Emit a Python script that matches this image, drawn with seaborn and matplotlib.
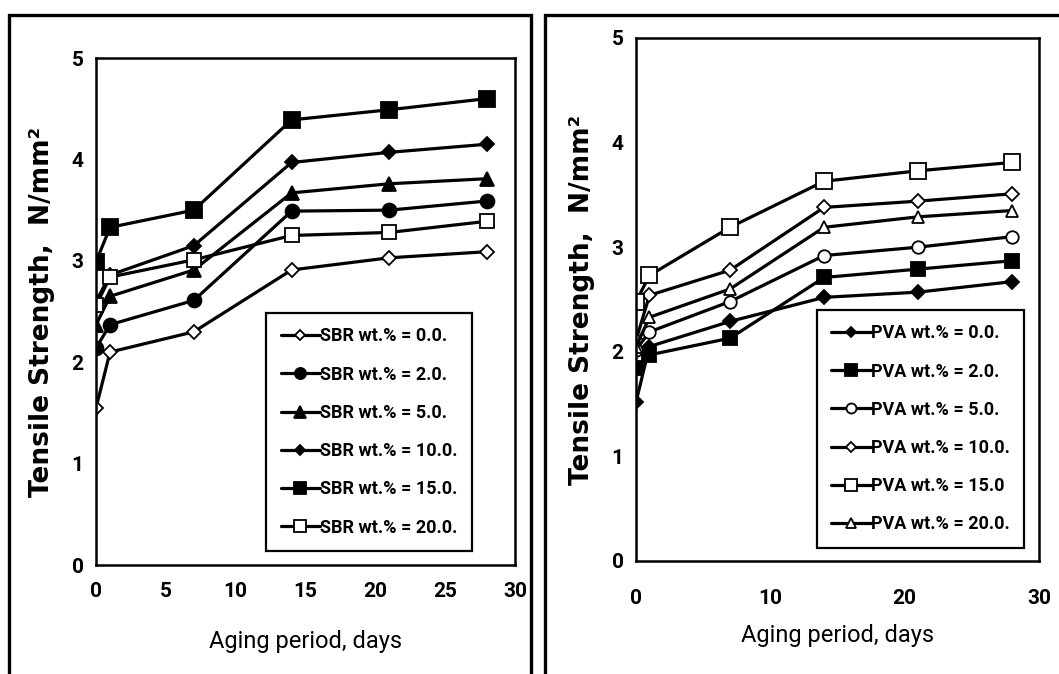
"""Tensile strength vs aging period, SBR and PVA modified samples."""

import numpy as np
import pandas as pd
import matplotlib
matplotlib.use("Agg")
import matplotlib.pyplot as plt
from matplotlib.patches import Rectangle
import seaborn as sns


DAYS = [0, 1, 7, 14, 21, 28]

SBR_LABELS = ["SBR wt.% = 0.0.", "SBR wt.% = 2.0.", "SBR wt.% = 5.0.",
              "SBR wt.% = 10.0.", "SBR wt.% = 15.0.", "SBR wt.% = 20.0."]
SBR_00 = [1.55, 2.10, 2.30, 2.91, 3.03, 3.09]
SBR_02 = [2.14, 2.37, 2.61, 3.49, 3.50, 3.59]
SBR_05 = [2.37, 2.65, 2.91, 3.67, 3.76, 3.81]
SBR_10 = [2.60, 2.86, 3.15, 3.97, 4.07, 4.15]
SBR_15 = [2.99, 3.33, 3.50, 4.39, 4.49, 4.60]
SBR_20 = [2.56, 2.84, 3.01, 3.25, 3.28, 3.39]

PVA_LABELS = ["PVA wt.% = 0.0.", "PVA wt.% = 2.0.", "PVA wt.% = 5.0.",
              "PVA wt.% = 10.0.", "PVA wt.% = 15.0", "PVA wt.% = 20.0."]
PVA_00 = [1.52, 2.05, 2.29, 2.52, 2.57, 2.67]
PVA_02 = [1.84, 1.97, 2.13, 2.71, 2.79, 2.87]
PVA_05 = [2.02, 2.19, 2.48, 2.92, 3.00, 3.10]
PVA_10 = [2.11, 2.54, 2.78, 3.38, 3.44, 3.51]
PVA_15 = [2.48, 2.73, 3.19, 3.63, 3.73, 3.81]
PVA_20 = [2.05, 2.33, 2.60, 3.19, 3.29, 3.35]

# marker, filled?, size
SBR_MARKERS = [("D", False, 7), ("o", True, 10), ("^", True, 10),
               ("D", True, 7), ("s", True, 11), ("s", False, 10)]
PVA_MARKERS = [("D", True, 7), ("s", True, 10), ("o", False, 9),
               ("D", False, 7), ("s", False, 11), ("^", False, 9)]

SANS = ["Roboto", "DejaVu Sans"]

sns.set_theme(style="white")
plt.rcParams["font.family"] = SANS
plt.rcParams["text.color"] = "black"
plt.rcParams["axes.labelcolor"] = "black"
plt.rcParams["xtick.color"] = "black"
plt.rcParams["ytick.color"] = "black"


def draw_panel(ax, series, labels, markers, xticks, legend_anchor, xpad, xlabpad):
    for vals, label, (mk, filled, ms) in zip(series, labels, markers):
        df = pd.DataFrame({"day": DAYS, "ts": vals})
        sns.lineplot(data=df, x="day", y="ts", ax=ax, color="black", linewidth=2.3,
                     marker=mk, markersize=ms, markeredgewidth=1.3,
                     markerfacecolor="black" if filled else "white",
                     markeredgecolor="black", label=label)
    ax.set_xlim(0, 30)
    ax.set_ylim(0, 5)
    ax.set_xticks(xticks)
    ax.set_xticklabels([str(v) for v in xticks], fontweight="bold", fontsize=15)
    ax.set_yticks([0, 1, 2, 3, 4, 5])
    ax.set_yticklabels([str(v) for v in range(6)], fontweight="bold", fontsize=15)
    ax.tick_params(length=0, pad=9)
    ax.tick_params(axis="x", pad=xpad)
    for s in ax.spines.values():
        s.set_color("black")
        s.set_linewidth(1.8)
    ax.set_ylabel("Tensile Strength,  N/mm\u00b2", family=["DejaVu Sans"],
                  fontweight="bold", fontsize=19, labelpad=12)
    ax.set_xlabel("Aging period, days", fontsize=17, labelpad=xlabpad)
    leg = ax.legend(loc="upper left", bbox_to_anchor=legend_anchor, frameon=True,
                    fancybox=False, edgecolor="black", framealpha=1,
                    prop={"family": SANS, "weight": "bold", "size": 13},
                    labelspacing=1.12, handlelength=2.2, handletextpad=0.0,
                    borderpad=0.8, borderaxespad=0)
    leg.get_frame().set_linewidth(1.6)
    for h in leg.legend_handles:
        h.set_markersize(h.get_markersize() * 0.8)


fig = plt.figure(figsize=(10.59, 6.74), dpi=100)
ax1 = fig.add_axes([0.0907, 0.1617, 0.3957, 0.7522])
ax2 = fig.add_axes([0.6006, 0.1677, 0.3805, 0.776])

draw_panel(ax1, [SBR_00, SBR_02, SBR_05, SBR_10, SBR_15, SBR_20], SBR_LABELS,
           SBR_MARKERS, [0, 5, 10, 15, 20, 25, 30], (0.406, 0.497), 12, 21)
draw_panel(ax2, [PVA_00, PVA_02, PVA_05, PVA_10, PVA_15, PVA_20], PVA_LABELS,
           PVA_MARKERS, [0, 10, 20, 30], (0.449, 0.48), 20, 12)

# outer panel frames (open at the bottom edge of the picture)
for x0, x1 in [(9, 531), (545, 1075)]:
    fig.patches.append(Rectangle((x0 / 1059, -0.05), (x1 - x0) / 1059, 1 - 15 / 674 + 0.05,
                                 transform=fig.transFigure, fill=False,
                                 edgecolor="black", linewidth=2.4, clip_on=False))

fig.savefig("out.png", dpi=100, facecolor="white")
